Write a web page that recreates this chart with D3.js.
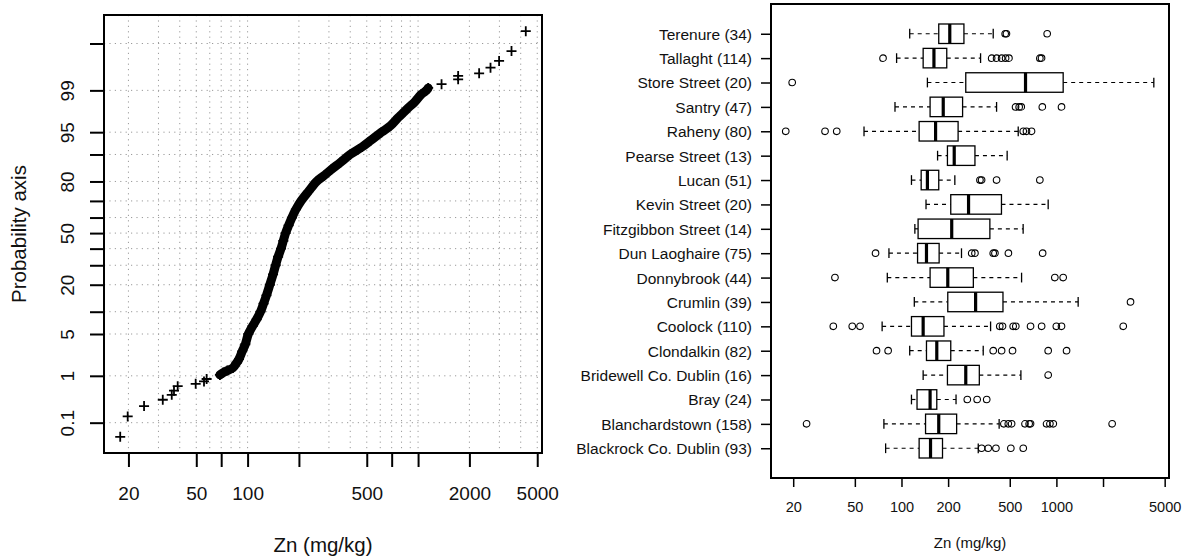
<!DOCTYPE html>
<html>
<head>
<meta charset="utf-8">
<script src="https://cdn.jsdelivr.net/npm/d3@7/dist/d3.min.js"></script>
<style>
  html, body { margin: 0; padding: 0; background: #fff; }
  svg { display: block; font-family: "Liberation Sans", Arial, Helvetica, sans-serif; }
</style>
</head>
<body>
<svg id="chart" width="1184" height="556"></svg>
<script>
// ---- Cumulative distribution of Zn (mg/kg): value vs. cumulative percent ----
const tailLowZn  = [17.9, 19.8, 24.7, 31.8, 35.9, 37.0, 38.9, 49.6, 55.5, 57.5];
const tailLowPct = [0.045, 0.14, 0.24, 0.33, 0.42, 0.51, 0.63, 0.70, 0.78, 0.87];
const bodyZn  = [68.8, 72, 76, 82, 86, 89, 93, 97, 101, 107, 113, 119, 124, 129, 135, 141, 146, 151, 157, 162, 167, 174, 182, 192, 206, 227, 254, 280, 310, 350, 400, 470, 530, 610, 690, 764, 830, 886, 960, 1040, 1120, 1146];
const bodyPct = [1.04, 1.15, 1.25, 1.4, 1.7, 2.0, 2.7, 3.5, 5.0, 6.5, 8.0, 10, 12.5, 15.5, 20, 25, 30, 35, 40, 45, 50, 55, 60, 65, 70, 75, 80, 82.5, 85, 87.5, 90, 92, 93.5, 95, 96, 97, 97.6, 98, 98.4, 98.8, 99, 99.1];
const tailHighZn  = [1373, 1718, 1718, 2281, 2660, 2987, 3532, 4283];
const tailHighPct = [99.24, 99.39, 99.48, 99.54, 99.65, 99.75, 99.85, 99.95];

const probTicks  = [0.1, 1, 5, 10, 20, 30, 40, 50, 60, 70, 80, 90, 95, 99, 99.9];
const probLabels = [0.1, 1, 5, 20, 50, 80, 95, 99];
const znTicksLeft  = [20, 50, 70, 100, 200, 500, 700, 1000, 2000, 5000];
const znLabelsLeft = [20, 50, 100, 500, 2000, 5000];
const znGrid = [20, 30, 40, 50, 60, 70, 80, 90, 100, 200, 300, 400, 500, 600, 700, 800, 900, 1000, 2000, 3000, 4000, 5000];

// ---- Zn by police division: boxplot statistics ----
const stations = ["Blackrock Co. Dublin", "Blanchardstown", "Bray", "Bridewell Co. Dublin", "Clondalkin", "Coolock", "Crumlin", "Donnybrook", "Dun Laoghaire", "Fitzgibbon Street", "Kevin Street", "Lucan", "Pearse Street", "Raheny", "Santry", "Store Street", "Tallaght", "Terenure"];
const counts      = [93, 158, 24, 16, 82, 110, 39, 44, 75, 14, 20, 51, 13, 80, 47, 20, 114, 34];
const whiskerLow  = [79, 77, 116, 138, 113, 75, 121, 81, 83, 122, 144, 116, 171, 57.3, 90.8, 147, 93, 113];
const quart1      = [130, 143, 126, 198, 145, 116, 199, 153, 127, 128, 208, 134, 198, 130, 153, 260, 138, 174];
const medians     = [154, 174, 153, 260, 169, 138, 301, 199, 145, 211, 271, 147, 219, 166, 186, 632, 162, 205];
const quart3      = [184, 227, 169, 318, 208, 188, 452, 291, 175, 372, 442, 174, 298, 232, 248, 1106, 196, 253];
const whiskerHigh = [313, 427, 225, 590, 337, 376, 1382, 596, 244, 610, 885, 221, 481, 567, 411, 4255, 324, 391];
const outliers = [
  [329, 363, 407, 508, 611],
  [24.4, 458, 489, 514, 627, 667, 681, 864, 908, 955, 2290],
  [266, 308, 355],
  [885],
  [69, 82, 391, 443, 521, 885, 1163],
  [36.3, 48.1, 54, 431, 449, 526, 547, 681, 803, 999, 1079, 2701],
  [3010],
  [37.2, 977, 1106],
  [68, 284, 298, 391, 401, 490, 815],
  [],
  [],
  [321, 329, 411, 782],
  [],
  [17.9, 32.1, 38.2, 611, 641, 691],
  [545, 575, 593, 811, 1079],
  [19.7],
  [76, 382, 411, 443, 470, 494, 782, 802],
  [467, 476, 872]
];
const znTicksRight  = [20, 50, 100, 200, 500, 1000, 2000, 5000];
const znLabelsRight = [20, 50, 100, 200, 500, 1000, 5000];

// Inverse standard normal CDF (Acklam's rational approximation)
function qnorm(p) {
  const a = [-3.969683028665376e+01, 2.209460984245205e+02, -2.759285104469687e+02, 1.383577518672690e+02, -3.066479806614716e+01, 2.506628277459239e+00];
  const b = [-5.447609879822406e+01, 1.615858368580409e+02, -1.556989798598866e+02, 6.680131188771972e+01, -1.328068155288572e+01];
  const c = [-7.784894002430293e-03, -3.223964580411365e-01, -2.400758277161838e+00, -2.549732539343734e+00, 4.374664141464968e+00, 2.938163982698783e+00];
  const d = [7.784695709041462e-03, 3.224671290700398e-01, 2.445134137142996e+00, 3.754408661907416e+00];
  const pl = 0.02425, ph = 1 - pl;
  let q, r;
  if (p < pl) {
    q = Math.sqrt(-2 * Math.log(p));
    return (((((c[0]*q+c[1])*q+c[2])*q+c[3])*q+c[4])*q+c[5]) / ((((d[0]*q+d[1])*q+d[2])*q+d[3])*q+1);
  }
  if (p <= ph) {
    q = p - 0.5; r = q * q;
    return (((((a[0]*r+a[1])*r+a[2])*r+a[3])*r+a[4])*r+a[5])*q / (((((b[0]*r+b[1])*r+b[2])*r+b[3])*r+b[4])*r+1);
  }
  q = Math.sqrt(-2 * Math.log(1 - p));
  return -(((((c[0]*q+c[1])*q+c[2])*q+c[3])*q+c[4])*q+c[5]) / ((((d[0]*q+d[1])*q+d[2])*q+d[3])*q+1);
}
const z = pct => qnorm(pct / 100);

const svg = d3.select("#chart");
const ink = "#000";

// Padded log extent of all Zn values (4% on each side)
const allZn = tailLowZn.concat(bodyZn, tailHighZn);
const lgMin = Math.log10(d3.min(allZn)), lgMax = Math.log10(d3.max(allZn));
const lgPad = (lgMax - lgMin) * 0.04;
const znDomain = [Math.pow(10, lgMin - lgPad), Math.pow(10, lgMax + lgPad)];

// ================= Left panel: probability plot =================
const L = { left: 104, right: 542, top: 15, bottom: 453 };
const xL = d3.scaleLog().domain(znDomain).range([L.left, L.right]);
const allPct = tailLowPct.concat(bodyPct, tailHighPct);
const zMin = z(d3.min(allPct)), zMax = z(d3.max(allPct));
const zPad = (zMax - zMin) * 0.04;
const yL = d3.scaleLinear().domain([zMin - zPad, zMax + zPad]).range([L.bottom, L.top]);

const gL = svg.append("g");

// dotted grid
const grid = gL.append("g").attr("stroke", "#9a9a9a").attr("stroke-width", 1).attr("stroke-dasharray", "1.2,4.2");
grid.selectAll("line.v").data(znGrid).join("line")
  .attr("x1", d => xL(d)).attr("x2", d => xL(d))
  .attr("y1", L.top).attr("y2", L.bottom);
grid.selectAll("line.h").data(probTicks).join("line")
  .attr("x1", L.left).attr("x2", L.right)
  .attr("y1", d => yL(z(d))).attr("y2", d => yL(z(d)));

// dense central part as a heavy band, plus "+" symbols at every point
const bodyPts = bodyZn.map((v, i) => [v, bodyPct[i]]);
const band = d3.line().x(d => xL(d[0])).y(d => yL(z(d[1]))).curve(d3.curveCatmullRom.alpha(0.5));
gL.append("path").datum(bodyPts).attr("d", band)
  .attr("fill", "none").attr("stroke", ink).attr("stroke-width", 9)
  .attr("stroke-linecap", "round").attr("stroke-linejoin", "round");

const allPts = tailLowZn.map((v, i) => [v, tailLowPct[i]])
  .concat(bodyPts, tailHighZn.map((v, i) => [v, tailHighPct[i]]));
const arm = 5;
gL.append("g").selectAll("path").data(allPts).join("path")
  .attr("d", d => {
    const cx = xL(d[0]), cy = yL(z(d[1]));
    return `M${cx - arm},${cy}H${cx + arm}M${cx},${cy - arm}V${cy + arm}`;
  })
  .attr("stroke", ink).attr("stroke-width", 1.8).attr("fill", "none");

// axes
const axB = gL.append("g").attr("transform", `translate(0,${L.bottom})`)
  .call(d3.axisBottom(xL).tickValues(znTicksLeft).tickSize(14)
    .tickFormat(d => znLabelsLeft.includes(d) ? String(d) : ""));
axB.select(".domain").remove();
axB.selectAll("line").attr("stroke", ink).attr("stroke-width", 2);
axB.selectAll("text").attr("y", 40).attr("dy", "0.35em")
  .attr("font-size", 19).attr("fill", "#111").attr("font-family", null);

const axLft = gL.append("g").attr("transform", `translate(${L.left},0)`)
  .call(d3.axisLeft(d3.scaleLinear().domain(yL.domain()).range(yL.range()))
    .tickValues(probTicks.map(z)).tickSize(14)
    .tickFormat((d, i) => probLabels.includes(probTicks[i]) ? String(probTicks[i]) : ""));
axLft.select(".domain").remove();
axLft.selectAll("line").attr("stroke", ink).attr("stroke-width", 2);
axLft.selectAll("text")
  .attr("x", null).attr("dy", null)
  .attr("transform", "translate(-37,0) rotate(-90)")
  .attr("text-anchor", "middle").attr("dominant-baseline", "central")
  .attr("font-size", 19).attr("fill", "#111").attr("font-family", null);

gL.append("rect").attr("x", L.left).attr("y", L.top)
  .attr("width", L.right - L.left).attr("height", L.bottom - L.top)
  .attr("fill", "none").attr("stroke", ink).attr("stroke-width", 2);

gL.append("text").attr("x", (L.left + L.right) / 2).attr("y", 544)
  .attr("text-anchor", "middle").attr("dominant-baseline", "central")
  .attr("font-size", 20.5).attr("fill", "#111").text("Zn (mg/kg)");
gL.append("text").attr("transform", `translate(18,${(L.top + L.bottom) / 2}) rotate(-90)`)
  .attr("text-anchor", "middle").attr("dominant-baseline", "central")
  .attr("font-size", 20.5).attr("fill", "#111").text("Probability axis");

// ================= Right panel: horizontal boxplots =================
const R = { left: 771, right: 1169, top: 4, bottom: 478 };
const xR = d3.scaleLog().domain(znDomain).range([R.left, R.right]);
const nG = stations.length;
const yPad = nG * 0.04;
const yR = d3.scaleLinear().domain([0.5 - yPad, nG + 0.5 + yPad]).range([R.bottom, R.top]);
const half = (yR(0) - yR(0.4));      // box half-height (boxwex 0.8)
const staple = half / 2;

const gR = svg.append("g");
const rows = stations.map((s, i) => ({
  name: s, n: counts[i], pos: i + 1,
  lo: whiskerLow[i], q1: quart1[i], med: medians[i], q3: quart3[i], hi: whiskerHigh[i], out: outliers[i]
}));

const rowG = gR.selectAll("g.row").data(rows).join("g").attr("class", "row")
  .attr("transform", d => `translate(0,${yR(d.pos)})`);

// dashed whiskers
rowG.append("line").attr("x1", d => xR(d.lo)).attr("x2", d => xR(d.q1)).attr("y1", 0).attr("y2", 0)
  .attr("stroke", ink).attr("stroke-width", 1.2).attr("stroke-dasharray", "4,4");
rowG.append("line").attr("x1", d => xR(d.q3)).attr("x2", d => xR(d.hi)).attr("y1", 0).attr("y2", 0)
  .attr("stroke", ink).attr("stroke-width", 1.2).attr("stroke-dasharray", "4,4");
// staples
rowG.append("line").attr("x1", d => xR(d.lo)).attr("x2", d => xR(d.lo)).attr("y1", -staple).attr("y2", staple)
  .attr("stroke", ink).attr("stroke-width", 1.3);
rowG.append("line").attr("x1", d => xR(d.hi)).attr("x2", d => xR(d.hi)).attr("y1", -staple).attr("y2", staple)
  .attr("stroke", ink).attr("stroke-width", 1.3);
// boxes
rowG.append("rect").attr("x", d => xR(d.q1)).attr("width", d => xR(d.q3) - xR(d.q1))
  .attr("y", -half).attr("height", 2 * half)
  .attr("fill", "#fff").attr("stroke", ink).attr("stroke-width", 1.3);
// medians
rowG.append("line").attr("x1", d => xR(d.med)).attr("x2", d => xR(d.med)).attr("y1", -half).attr("y2", half)
  .attr("stroke", ink).attr("stroke-width", 3.2);
// outliers
rowG.selectAll("circle").data(d => d.out).join("circle")
  .attr("cx", v => xR(v)).attr("cy", 0).attr("r", 3.3)
  .attr("fill", "none").attr("stroke", ink).attr("stroke-width", 1.1);

// axes
const axRB = gR.append("g").attr("transform", `translate(0,${R.bottom})`)
  .call(d3.axisBottom(xR).tickValues(znTicksRight).tickSize(9)
    .tickFormat(d => znLabelsRight.includes(d) ? String(d) : ""));
axRB.select(".domain").remove();
axRB.selectAll("line").attr("stroke", ink).attr("stroke-width", 1.5);
axRB.selectAll("text").attr("y", 29).attr("dy", "0.35em")
  .attr("font-size", 14.5).attr("fill", "#111").attr("font-family", null);

const axRL = gR.append("g").attr("transform", `translate(${R.left},0)`)
  .call(d3.axisLeft(yR).tickValues(rows.map(d => d.pos)).tickSize(10)
    .tickFormat(p => `${stations[p - 1]} (${counts[p - 1]})`));
axRL.select(".domain").remove();
axRL.selectAll("line").attr("stroke", ink).attr("stroke-width", 1.5);
axRL.selectAll("text").attr("x", -19).attr("dy", "0.35em")
  .attr("font-size", 15.5).attr("fill", "#111").attr("font-family", null);

gR.append("rect").attr("x", R.left).attr("y", R.top)
  .attr("width", R.right - R.left).attr("height", R.bottom - R.top)
  .attr("fill", "none").attr("stroke", ink).attr("stroke-width", 2);

gR.append("text").attr("x", (R.left + R.right) / 2).attr("y", 542)
  .attr("text-anchor", "middle").attr("dominant-baseline", "central")
  .attr("font-size", 15).attr("fill", "#111").text("Zn (mg/kg)");
</script>
</body>
</html>
